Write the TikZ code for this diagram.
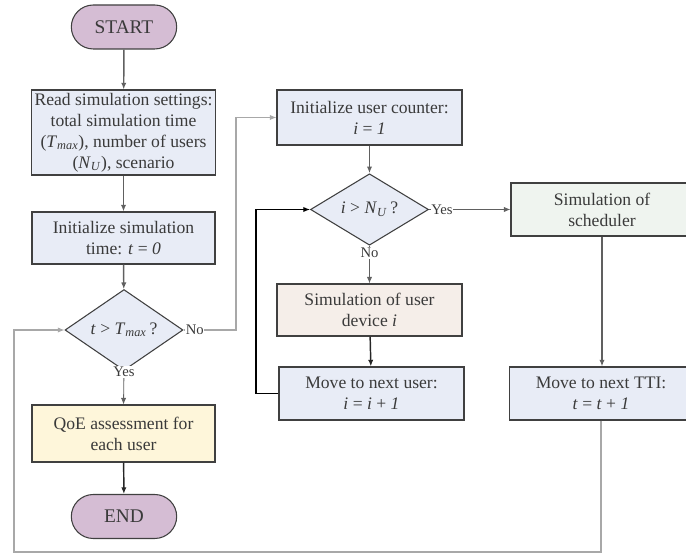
\documentclass[tikz,border=0pt]{standalone}
\usepackage{fontspec}
\setmainfont{Liberation Serif}
\usetikzlibrary{shapes.geometric,shapes.misc,arrows.meta}
\definecolor{termfill}{HTML}{D5BDD4}
\definecolor{procfill}{HTML}{E8ECF6}
\definecolor{qoefill}{HTML}{FEF6DA}
\definecolor{devfill}{HTML}{F5EEE9}
\definecolor{schedfill}{HTML}{EFF4EF}
\definecolor{edge}{HTML}{404040}
\definecolor{ink}{HTML}{3A3A3A}
\definecolor{flowgray}{HTML}{606060}
\definecolor{loopgray}{HTML}{A8A8A8}
\tikzset{
  base/.style={draw=edge, line width=0.8pt, text=ink, font=\fontsize{13.2}{15.8}\selectfont,
               align=center, inner sep=2pt},
  term/.style={base, rounded rectangle, fill=termfill, minimum width=83pt, minimum height=33pt,
               font=\fontsize{14.5}{16}\selectfont},
  proc/.style={base, rectangle, fill=procfill, minimum width=137.25pt},
  decision/.style={base, diamond, fill=procfill, minimum width=88.5pt, minimum height=42pt, inner sep=0pt},
  tip/.style={-{Latex[length=5pt,width=4pt]}},
  mainflow/.style={tip, draw=flowgray, line width=1.1pt},
  darkflow/.style={tip, draw=black!85, line width=1.1pt},
  thinflow/.style={tip, draw=flowgray, line width=0.6pt},
  loopflow/.style={tip, draw=loopgray, line width=0.8pt},
  branch/.style={font=\fontsize{11}{13}\selectfont, text=ink, fill=white, inner sep=1pt}
}
\begin{document}
\begin{tikzpicture}[x=0.75pt, y=-0.75pt]
  \useasboundingbox (0,0) rectangle (686,555);

  % left column: main loop over time
  \node[term] (start) at (124,27) {START};
  \node[proc, minimum height=63.75pt] (read) at (123.5,132.5)
    {Read simulation settings:\\ total simulation time\\
     (\textit{T}\textsubscript{\textit{max}}), number of users\\
     (\textit{N}\textsubscript{\textit{U}}), scenario};
  \node[proc, minimum height=39pt] (inittime) at (123.5,238)
    {Initialize simulation\\ time: \textit{t} = \textit{0}};
  \node[decision] (dec1) at (124,330)
    {\textit{t} > \textit{T}\textsubscript{\textit{max}}\,?};
  \node[proc, fill=qoefill, minimum height=42.75pt] (qoe) at (123.5,433.5)
    {QoE assessment for\\ each user};
  \node[term] (end) at (124,516.5) {END};

  % middle column: loop over users
  \node[proc, minimum width=138.75pt, minimum height=41.25pt] (userctr) at (369.5,117.5)
    {Initialize user counter:\\ \textit{i} = \textit{1}};
  \node[decision] (dec2) at (369.5,209.5)
    {\textit{i} > \textit{N}\textsubscript{\textit{U}}\,?};
  \node[proc, fill=devfill, minimum width=138.75pt, minimum height=39pt] (device) at (369.5,310)
    {Simulation of user\\ device \textit{i}};
  \node[proc, minimum width=138.75pt, minimum height=39.75pt] (nextuser) at (371.5,393.5)
    {Move to next user:\\ \textit{i} = \textit{i} + \textit{1}};

  % right column: scheduler and time step
  \node[proc, fill=schedfill, minimum width=136.5pt, minimum height=39.75pt] (sched) at (602,209.5)
    {Simulation of\\ scheduler};
  \node[proc, minimum height=39.75pt] (nexttti) at (601,393.5)
    {Move to next TTI:\\ \textit{t} = \textit{t} + \textit{1}};

  % connectors
  \draw[mainflow] (start) -- (read);
  \draw[mainflow] (read) -- (inittime);
  \draw[mainflow] (inittime) -- (dec1);
  \draw[thinflow] (dec1.south) -- (qoe.north);
  \node[branch] (yes1) at (124,372) {Yes};
  \draw[darkflow] (qoe) -- (end);
  \draw[loopflow] (dec1.east) -- (236,330) |- (userctr.west);
  \node[branch, anchor=west, inner sep=0.5pt, xshift=1pt] (no1) at (dec1.east) {No};

  \draw[mainflow] (userctr) -- (dec2);
  \draw[thinflow] (dec2.east) -- (sched.west);
  \node[branch, anchor=west, inner sep=0.5pt, xshift=1pt] (yes2) at (dec2.east) {Yes};
  \draw[thinflow] (dec2.south) -- (device.north);
  \node[branch] (no2) at (369.5,253) {No};
  \draw[darkflow] (device) -- (nextuser);
  \draw[tip, draw=black, line width=0.8pt] (nextuser.west) -- (256,393.5) |- (dec2.west);

  \draw[mainflow] (sched.south) -- (sched.south |- nexttti.north);
  \draw[loopflow] (nexttti.south) |- (14,552) |- (dec1.west);
\end{tikzpicture}
\end{document}
